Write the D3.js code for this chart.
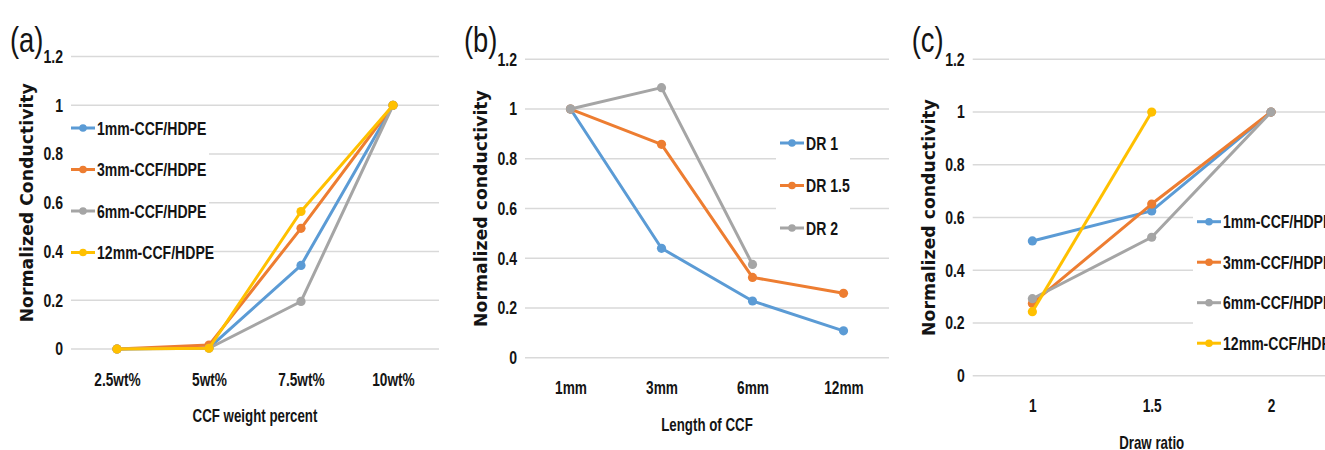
<!DOCTYPE html>
<html>
<head>
<meta charset="utf-8">
<script src="https://cdn.jsdelivr.net/npm/d3@7"></script>
<style>
  html, body { margin: 0; padding: 0; background: #fff; }
  svg { display: block; }
</style>
</head>
<body>
<svg id="chart" width="1325" height="450"></svg>
<script>
// ---- data ----
const yTicks = [0, 0.2, 0.4, 0.6, 0.8, 1, 1.2];

// (a) conductivity vs CCF loading
const weightCategories = ["2.5wt%", "5wt%", "7.5wt%", "10wt%"];
const weight1mm  = [0, 0.005, 0.343, 1];
const weight3mm  = [0, 0.016, 0.495, 1];
const weight6mm  = [0, 0.003, 0.195, 1];
const weight12mm = [0, 0.003, 0.564, 1];

// (b) conductivity vs fibre length
const lengthCategories = ["1mm", "3mm", "6mm", "12mm"];
const lengthDR1   = [1, 0.44, 0.228, 0.108];
const lengthDR15  = [1, 0.858, 0.323, 0.259];
const lengthDR2   = [1, 1.086, 0.375, null];

// (c) conductivity vs draw ratio
const drawCategories = ["1", "1.5", "2"];
const draw1mm  = [0.511, 0.625, 1];
const draw3mm  = [0.274, 0.651, 1];
const draw6mm  = [0.292, 0.525, 1];
const draw12mm = [0.243, 1, null];

const hdpeNames = ["1mm-CCF/HDPE", "3mm-CCF/HDPE", "6mm-CCF/HDPE", "12mm-CCF/HDPE"];
const drNames = ["DR 1", "DR 1.5", "DR 2"];
const palette = ["#5B9BD5", "#ED7D31", "#A5A5A5", "#FFC000"];

// ---- drawing ----
const svg = d3.select("#chart");
const labelFont = "'Liberation Sans', Arial, sans-serif";
const titleFont = "'DejaVu Sans', Verdana, sans-serif";
const SQUEEZE = 0.76;   // horizontal condensing for the narrow label face

// moves a text's x/y into a transform so it can be condensed horizontally
function condense(sel, sx = SQUEEZE) {
  sel.each(function () {
    const t = d3.select(this);
    const x = +t.attr("x") || 0, y = +t.attr("y") || 0;
    t.attr("x", 0).attr("y", 0)
     .attr("transform", `translate(${x},${y}) scale(${sx},1)`);
  });
}

function styleLabel(sel, size) {
  sel.attr("font-family", labelFont).attr("font-weight", "bold")
     .attr("font-size", size).attr("fill", "#141414");
  condense(sel);
}

function drawPanel(p) {
  const g = svg.append("g");
  const x = d3.scalePoint().domain(p.categories).range([p.left, p.right]).padding(0.5);
  const y = d3.scaleLinear().domain([0, 1.2]).range([p.bottom, p.top]);

  // horizontal gridlines
  g.append("g")
    .selectAll("line")
    .data(yTicks)
    .join("line")
    .attr("x1", p.left).attr("x2", p.right)
    .attr("y1", d => y(d)).attr("y2", d => y(d))
    .attr("stroke", "#d9d9d9").attr("stroke-width", 1.6);

  // y axis labels
  const yAxis = g.append("g")
    .attr("transform", `translate(${p.left},0)`)
    .call(d3.axisLeft(y).tickValues(yTicks).tickSize(0).tickPadding(8)
      .tickFormat(d => d3.format("~g")(d)));
  yAxis.select(".domain").remove();
  styleLabel(yAxis.selectAll("text"), 18.5);

  // x axis labels
  const xAxis = g.append("g")
    .attr("transform", `translate(0,${p.bottom})`)
    .call(d3.axisBottom(x).tickSize(0).tickPadding(24));
  xAxis.select(".domain").remove();
  styleLabel(xAxis.selectAll("text"), 18);

  // axis titles
  const xt = g.append("text")
    .attr("x", (p.left + p.right) / 2)
    .attr("y", p.bottom + 67)
    .attr("text-anchor", "middle").attr("dominant-baseline", "central")
    .text(p.xTitle);
  styleLabel(xt, 17.5);

  g.append("text")
    .attr("transform", `translate(${p.left - 44},${(p.top + p.bottom) / 2}) rotate(-90)`)
    .attr("text-anchor", "middle").attr("dominant-baseline", "central")
    .attr("font-family", titleFont).attr("font-weight", "bold")
    .attr("font-size", 17.3).attr("fill", "#141414")
    .text(p.yTitle);

  // panel tag
  const tag = g.append("text")
    .attr("x", p.left - 61).attr("y", 40)
    .attr("dominant-baseline", "central")
    .attr("font-family", labelFont)
    .attr("font-size", 36).attr("fill", "#141414")
    .text(p.tag);
  condense(tag, 0.76);

  // legend backdrop hides gridlines behind the entries
  const lg = g.append("g");
  lg.append("rect")
    .attr("x", p.legend.x - 4).attr("y", p.legend.y - 18)
    .attr("width", p.legend.w).attr("height", p.legend.step * (p.names.length - 1) + 36)
    .attr("fill", "#fff");

  // series
  const line = d3.line()
    .defined(d => d.v !== null)
    .x(d => x(d.c)).y(d => y(d.v));

  p.series.forEach((vals, i) => {
    const pts = vals.map((v, j) => ({ c: p.categories[j], v }));
    g.append("path")
      .datum(pts)
      .attr("d", line)
      .attr("fill", "none")
      .attr("stroke", palette[i])
      .attr("stroke-width", 3)
      .attr("stroke-linejoin", "round");
    g.append("g")
      .selectAll("circle")
      .data(pts.filter(d => d.v !== null))
      .join("circle")
      .attr("cx", d => x(d.c)).attr("cy", d => y(d.v))
      .attr("r", 4.6)
      .attr("fill", palette[i]);
  });

  // legend entries
  p.names.forEach((name, i) => {
    const ly = p.legend.y + i * p.legend.step;
    lg.append("line")
      .attr("x1", p.legend.x).attr("x2", p.legend.x + 24)
      .attr("y1", ly).attr("y2", ly)
      .attr("stroke", palette[i]).attr("stroke-width", 3);
    lg.append("circle")
      .attr("cx", p.legend.x + 12).attr("cy", ly).attr("r", 3.8)
      .attr("fill", palette[i]);
    const t = lg.append("text")
      .attr("x", p.legend.x + 26).attr("y", ly)
      .attr("dominant-baseline", "central")
      .text(name);
    styleLabel(t, 18.5);
  });
  lg.raise();
}

drawPanel({
  tag: "(a)", categories: weightCategories,
  series: [weight1mm, weight3mm, weight6mm, weight12mm], names: hdpeNames,
  left: 71, right: 439, top: 56.5, bottom: 349,
  xTitle: "CCF weight percent",
  yTitle: "Normalized Conductivity",
  legend: { x: 71, y: 128, step: 41.5, w: 142 }
});

drawPanel({
  tag: "(b)", categories: lengthCategories,
  series: [lengthDR1, lengthDR15, lengthDR2], names: drNames,
  left: 525, right: 889, top: 59.3, bottom: 357.7,
  xTitle: "Length of CCF",
  yTitle: "Normalized conductivity",
  legend: { x: 780, y: 143, step: 42.5, w: 74 }
});

drawPanel({
  tag: "(c)", categories: drawCategories,
  series: [draw1mm, draw3mm, draw6mm, draw12mm], names: hdpeNames,
  left: 972.7, right: 1330.7, top: 59.3, bottom: 375.7,
  xTitle: "Draw ratio",
  yTitle: "Normalized conductivity",
  legend: { x: 1197, y: 221.7, step: 40.5, w: 140 }
});
</script>
</body>
</html>
